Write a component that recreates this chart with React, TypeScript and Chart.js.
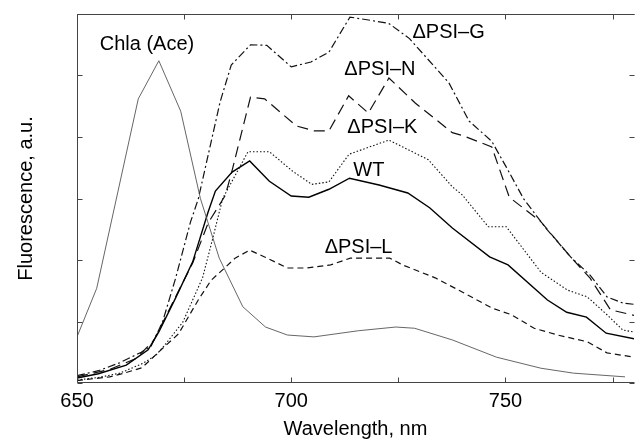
import React, { useEffect, useRef } from "react";
import { Chart, registerables } from "chart.js";

Chart.register(...registerables);

const FONT = '"Liberation Sans", Arial, Helvetica, sans-serif';

// Axis ticks
const xTickValues = [650, 675, 700, 725, 750, 775];
const xLabelValues = [650, 700, 750];
const yTickValues = [0, 1, 2, 3, 4, 5, 6];

// Chla (Ace)
const chlaX = [650, 654.6, 664.3, 669.1, 674.2, 678.8, 683.2, 688.7, 694, 699.1, 705.3, 715.7, 724.4, 728.8, 737.6, 747.9, 758.3, 765.9, 777.9];
const chlaY = [0.75, 1.54, 4.62, 5.24, 4.42, 3.0, 2.03, 1.24, 0.91, 0.78, 0.75, 0.85, 0.91, 0.89, 0.7, 0.42, 0.24, 0.16, 0.1];

// WT
const wtX = [650, 655, 661.5, 666.6, 669.1, 673, 677, 680.6, 682.3, 686.2, 690.3, 694.9, 700, 704.1, 708.8, 713.6, 720.5, 727.2, 732.3, 737.6, 746.3, 750.6, 759.8, 764.3, 768.9, 773.5, 780];
const wtY = [0.08, 0.15, 0.29, 0.54, 0.83, 1.38, 1.97, 2.78, 3.12, 3.43, 3.61, 3.28, 3.04, 3.02, 3.15, 3.33, 3.22, 3.09, 2.85, 2.52, 2.05, 1.92, 1.35, 1.15, 1.07, 0.81, 0.72];

// ΔPSI-K (dotted)
const kX = [650, 655, 660, 665.4, 668.4, 670.3, 674.7, 679.3, 681.5, 684, 689.9, 694.9, 700.2, 704.8, 708.8, 713.5, 722.8, 732, 737.6, 739.9, 746, 750.2, 758.3, 764.5, 769.1, 773.7, 777.4, 780];
const kY = [0.05, 0.09, 0.16, 0.32, 0.45, 0.6, 0.99, 1.71, 2.3, 3.0, 3.76, 3.76, 3.45, 3.23, 3.27, 3.72, 3.95, 3.63, 3.19, 3.06, 2.54, 2.54, 1.8, 1.51, 1.4, 1.11, 0.86, 0.83];

// ΔPSI-N (long dash)
const nX = [650, 657.6, 663.8, 668, 673, 677, 680.6, 684.6, 686, 690.5, 693.8, 701.2, 705.3, 708.8, 713.4, 718, 722.8, 729, 737.6, 740.1, 746.8, 750.9, 758.3, 765.2, 769.8, 774.5, 780];
const nY = [0.1, 0.22, 0.4, 0.7, 1.4, 1.95, 2.6, 3.05, 3.4, 4.65, 4.62, 4.18, 4.1, 4.1, 4.67, 4.39, 4.96, 4.55, 4.07, 4.02, 3.84, 3.02, 2.62, 2.05, 1.7, 1.19, 1.1];

// ΔPSI-G (dash-dot)
const gX = [650, 655, 660, 665, 667.3, 670, 673, 676.5, 678.3, 683.4, 686, 690.5, 694.3, 700, 704.6, 708.8, 713.7, 722.7, 727.6, 736.8, 741.5, 746.8, 750.2, 754.2, 759.4, 765.2, 769.8, 773.7, 777.4, 780];
const gY = [0.12, 0.2, 0.33, 0.5, 0.6, 1.0, 1.7, 2.62, 2.99, 4.57, 5.17, 5.5, 5.49, 5.14, 5.22, 5.38, 5.95, 5.85, 5.6, 4.88, 4.26, 3.93, 3.51, 3.0, 2.52, 2.05, 1.75, 1.4, 1.3, 1.28];

// ΔPSI-L (short dash)
const lX = [650, 657.6, 661, 665.2, 669, 673.7, 678.3, 681.3, 684.6, 686.9, 690.3, 693.8, 699.1, 703.7, 709.2, 713.8, 716.8, 723, 726, 733.6, 739.9, 746.8, 751.4, 756.7, 762.2, 769.1, 773.7, 780];
const lY = [0.04, 0.1, 0.16, 0.25, 0.5, 0.8, 1.35, 1.67, 1.88, 2.03, 2.16, 2.05, 1.87, 1.87, 1.92, 2.03, 2.03, 2.03, 1.92, 1.71, 1.48, 1.22, 1.11, 0.89, 0.78, 0.67, 0.49, 0.42];

// In-plot labels (data coordinates of the label's left / vertical middle)
const labelTexts = ["Chla (Ace)", "ΔPSI–G", "ΔPSI–N", "ΔPSI–K", "WT", "ΔPSI–L"];
const labelXs = [655.3, 728.3, 712.4, 713.1, 714.5, 707.8];
const labelYs = [5.5, 5.7, 5.09, 4.15, 3.46, 2.2];

const toPts = (xs: number[], ys: number[]) => xs.map((x, i) => ({ x, y: ys[i] }));

const framePlugin = {
  id: "frameAndLabels",
  afterDraw(chart: any) {
    const { ctx, chartArea: a, scales } = chart;
    const xs = scales.x;
    const ys = scales.y;
    ctx.save();
    ctx.strokeStyle = "#444";
    ctx.lineWidth = 1;
    ctx.beginPath();
    const l = Math.round(a.left) + 0.5;
    const t = Math.round(a.top) + 0.5;
    const b = Math.round(a.bottom) - 0.5;
    const r = Math.round(a.right) + 0.5;
    ctx.moveTo(r, t);
    ctx.lineTo(l, t);
    ctx.lineTo(l, b);
    ctx.lineTo(r, b);
    const tl = 5;
    xTickValues.forEach((v) => {
      const px = Math.round(xs.getPixelForValue(v)) + 0.5;
      ctx.moveTo(px, b);
      ctx.lineTo(px, b - tl);
      ctx.moveTo(px, t);
      ctx.lineTo(px, t + tl);
    });
    yTickValues.forEach((v) => {
      const py = Math.round(ys.getPixelForValue(v)) + 0.5;
      ctx.moveTo(l, py);
      ctx.lineTo(l + tl, py);
      ctx.moveTo(r, py);
      ctx.lineTo(r - tl, py);
    });
    ctx.stroke();

    ctx.fillStyle = "#000";
    ctx.font = `20px ${FONT}`;
    ctx.textAlign = "left";
    ctx.textBaseline = "middle";
    labelTexts.forEach((txt, i) => {
      ctx.fillText(txt, xs.getPixelForValue(labelXs[i]), ys.getPixelForValue(labelYs[i]));
    });
    ctx.restore();
  },
};

export default function App() {
  const ref = useRef<HTMLCanvasElement | null>(null);

  useEffect(() => {
    if (!ref.current) return;
    const mk = (label: string, xs: number[], ys: number[], color: string, width: number, dash: number[]) => ({
      label,
      data: toPts(xs, ys),
      borderColor: color,
      borderWidth: width,
      borderDash: dash,
      pointRadius: 0,
      tension: 0,
      fill: false,
    });
    const chart = new Chart(ref.current, {
      type: "line",
      data: {
        datasets: [
          mk("Chla (Ace)", chlaX, chlaY, "#555", 0.9, []),
          mk("ΔPSI-L", lX, lY, "#111", 1.2, [6, 4]),
          mk("ΔPSI-K", kX, kY, "#111", 1.1, [1.5, 2]),
          mk("WT", wtX, wtY, "#000", 1.4, []),
          mk("ΔPSI-N", nX, nY, "#111", 1.2, [11, 6]),
          mk("ΔPSI-G", gX, gY, "#111", 1.2, [8, 3, 2, 3]),
        ],
      },
      options: {
        animation: false,
        responsive: false,
        devicePixelRatio: 1,
        layout: { padding: { top: 14, right: 0, left: 0, bottom: 0 } },
        plugins: { legend: { display: false }, tooltip: { enabled: false } },
        scales: {
          x: {
            type: "linear",
            min: 650,
            max: 780,
            afterFit: (s: any) => {
              s.height = 58;
            },
            grid: { display: false, drawTicks: false },
            border: { display: false },
            ticks: {
              stepSize: 25,
              autoSkip: false,
              maxRotation: 0,
              padding: 6,
              color: "#000",
              font: { family: FONT, size: 20 },
              callback: (v: any) => (xLabelValues.includes(Number(v)) ? String(v) : ""),
            },
            title: {
              display: true,
              text: "Wavelength, nm",
              color: "#000",
              font: { family: FONT, size: 20 },
              padding: { top: 0, bottom: 0 },
            },
          },
          y: {
            type: "linear",
            min: 0,
            max: 6,
            afterFit: (s: any) => {
              s.width = 77;
            },
            grid: { display: false, drawTicks: false },
            border: { display: false },
            ticks: { display: false, stepSize: 1 },
            title: {
              display: true,
              text: "Fluorescence, a.u.",
              color: "#000",
              font: { family: FONT, size: 20 },
              padding: { top: 14, bottom: 0 },
            },
          },
        },
      } as any,
      plugins: [framePlugin],
    });
    return () => chart.destroy();
  }, []);

  return (
    <div style={{ position: "fixed", left: 0, top: 0, width: 640, height: 441, background: "#fff" }}>
      <canvas ref={ref} width={640} height={441} style={{ display: "block" }} />
    </div>
  );
}
